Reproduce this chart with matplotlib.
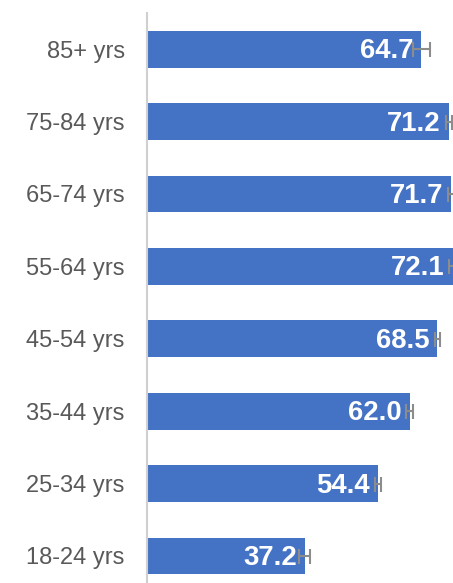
import matplotlib.pyplot as plt

categories = ["18-24 yrs", "25-34 yrs", "35-44 yrs", "45-54 yrs",
              "55-64 yrs", "65-74 yrs", "75-84 yrs", "85+ yrs"]
values = [37.2, 54.4, 62.0, 68.5, 72.1, 71.7, 71.2, 64.7]
errors = [1.3, 0.7, 0.85, 0.6, 0.9, 0.7, 0.7, 2.0]

BAR_COLOR = "#4472c4"

plt.rcParams["font.family"] = ["Liberation Sans", "DejaVu Sans"]

W, H = 453, 583
fig = plt.figure(figsize=(W / 100, H / 100), dpi=100)
ax = fig.add_axes([147 / W, 0, 1 - 147 / W, 570 / H])

ypos = list(range(len(categories)))
ax.barh(ypos, values, height=0.51, color=BAR_COLOR, zorder=2)
ax.errorbar(values, ypos, xerr=errors, fmt="none", ecolor="#8c8c8c",
            elinewidth=1.5, capsize=5.4, capthick=1.5, zorder=4)

# white bold value labels, right-aligned inside the bar end
for y, v in zip(ypos, values):
    ax.annotate(f"{v:.1f}", xy=(v, y), xytext=(-8, 1), textcoords="offset pixels",
                ha="right", va="center_baseline", color="white",
                fontsize=19.8, fontweight="bold", zorder=3)

ax.set_xlim(0, 72.17)
ax.set_ylim(-0.373, 7.5)
ax.set_yticks(ypos)
ax.set_yticklabels(categories, fontsize=17, color="#595959")
ax.tick_params(axis="y", length=0, pad=16)
ax.set_xticks([])

for side in ["top", "right", "bottom"]:
    ax.spines[side].set_visible(False)
ax.spines["left"].set_color("#d0d0d0")
ax.spines["left"].set_linewidth(1.5)

fig.savefig("out.png", dpi=100)
